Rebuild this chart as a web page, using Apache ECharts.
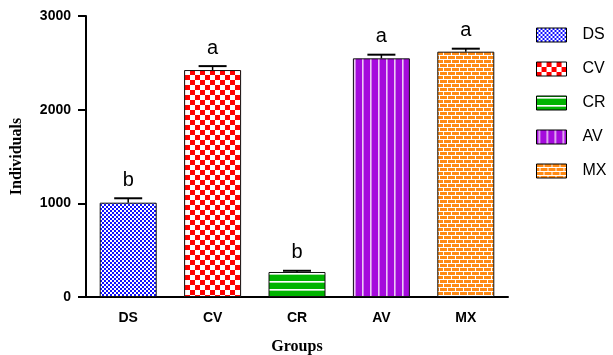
<!DOCTYPE html>
<html>
<head>
<meta charset="utf-8">
<script src="https://cdn.jsdelivr.net/npm/echarts@6/dist/echarts.min.js"></script>
<style>
  html, body { margin: 0; padding: 0; background: #fff; }
  #chart { width: 613px; height: 355px; }
</style>
</head>
<body>
<div id="chart"></div>
<script>
const categories = ["DS", "CV", "CR", "AV", "MX"];
const means = [1007, 2423, 267, 2548, 2619];
const errors = [47, 42, 13, 39, 32];
const letters = ["b", "a", "b", "a", "a"];
const yTicks = [0, 1000, 2000, 3000];

// small canvas tiles used as bar fills
function tile(w, h, bg, draw) {
  const c = document.createElement("canvas");
  c.width = w;
  c.height = h;
  const ctx = c.getContext("2d");
  ctx.fillStyle = bg;
  ctx.fillRect(0, 0, w, h);
  draw(ctx);
  return c;
}

const patterns = [
  // DS: fine blue checker
  tile(4, 4, "#ffffff", (ctx) => {
    ctx.fillStyle = "#1010ff";
    ctx.fillRect(0, 0, 2, 2);
    ctx.fillRect(2, 2, 2, 2);
  }),
  // CV: red checker
  tile(10, 10, "#ffffff", (ctx) => {
    ctx.fillStyle = "#ff0000";
    ctx.fillRect(0, 0, 5, 5);
    ctx.fillRect(5, 5, 5, 5);
  }),
  // CR: green with white horizontal lines
  tile(1, 8, "#00b400", (ctx) => {
    ctx.fillStyle = "#ffffff";
    ctx.fillRect(0, 1, 1, 1);
    ctx.fillStyle = "#a8e0a8";
    ctx.fillRect(0, 2, 1, 1);
  }),
  // AV: purple with light vertical lines
  tile(8, 1, "#a50bdc", (ctx) => {
    ctx.fillStyle = "#ecc8f4";
    ctx.fillRect(2, 0, 1, 1);
    ctx.fillStyle = "#cf80ea";
    ctx.fillRect(3, 0, 1, 1);
  }),
  // MX: orange bricks
  tile(16, 8, "#ff8a14", (ctx) => {
    ctx.fillStyle = "#ffffff";
    ctx.fillRect(0, 3, 16, 1);
    ctx.fillRect(0, 7, 16, 1);
    ctx.fillRect(7, 0, 1, 3);
    ctx.fillRect(15, 0, 1, 3);
    ctx.fillRect(3, 4, 1, 3);
    ctx.fillRect(11, 4, 1, 3);
  }),
];

const barSeries = categories.map((name, i) => ({
  name: name,
  type: "bar",
  stack: "groups",
  barWidth: 57,
  data: means.map((v, j) => (j === i ? v : "-")),
  itemStyle: {
    color: { image: patterns[i], repeat: "repeat" },
    borderColor: "#111",
    borderWidth: 1,
  },
  emphasis: { disabled: true },
}));

const errorSeries = {
  type: "custom",
  z: 5,
  data: means.map((m, i) => [i, m, errors[i]]),
  encode: { x: 0, y: 1 },
  renderItem: (params, api) => {
    const base = api.coord([api.value(0), api.value(1)]);
    const top = api.coord([api.value(0), api.value(1) + api.value(2)]);
    const hw = 14;
    return {
      type: "group",
      children: [
        {
          type: "line",
          shape: { x1: base[0], y1: base[1], x2: top[0], y2: top[1] },
          style: { stroke: "#000", lineWidth: 1.5 },
        },
        {
          type: "line",
          shape: { x1: top[0] - hw, y1: top[1], x2: top[0] + hw, y2: top[1] },
          style: { stroke: "#000", lineWidth: 2 },
        },
        {
          type: "text",
          style: {
            text: letters[params.dataIndex],
            x: top[0],
            y: top[1] - 8,
            align: "center",
            verticalAlign: "bottom",
            font: '20px "Liberation Sans", Arial, sans-serif',
            fill: "#000",
          },
        },
      ],
    };
  },
};

const chart = echarts.init(document.getElementById("chart"));
chart.setOption({
  animation: false,
  backgroundColor: "#fff",
  grid: { left: 86, right: 105, top: 16, bottom: 58, outerBoundsMode: "none" },
  legend: {
    data: categories,
    orient: "vertical",
    left: 531,
    top: 22,
    itemWidth: 30,
    itemHeight: 14,
    itemGap: 18,
    icon: "rect",
    itemStyle: { borderColor: "#000", borderWidth: 1 },
    textStyle: {
      fontFamily: "Liberation Sans",
      fontSize: 16,
      color: "#000",
      padding: [0, 0, 0, 11],
    },
    selectedMode: false,
  },
  xAxis: {
    type: "category",
    data: categories,
    name: "Groups",
    nameLocation: "middle",
    nameGap: 42,
    nameTextStyle: {
      fontFamily: "Liberation Serif",
      fontWeight: "bold",
      fontSize: 16,
      color: "#000",
    },
    axisLine: { lineStyle: { color: "#000", width: 2 } },
    axisTick: { alignWithLabel: true, length: 8, lineStyle: { width: 2 } },
    axisLabel: {
      fontFamily: "Liberation Sans",
      fontWeight: "bold",
      fontSize: 14,
      color: "#000",
      margin: 14,
    },
  },
  yAxis: {
    type: "value",
    min: yTicks[0],
    max: yTicks[yTicks.length - 1],
    interval: 1000,
    name: "Individuals",
    nameLocation: "middle",
    nameGap: 61,
    nameTextStyle: {
      fontFamily: "Liberation Serif",
      fontWeight: "bold",
      fontSize: 16,
      color: "#000",
    },
    axisLine: { show: true, lineStyle: { color: "#000", width: 2 } },
    axisTick: { show: true, length: 8, lineStyle: { width: 2 } },
    splitLine: { show: false },
    axisLabel: {
      fontFamily: "Liberation Sans",
      fontWeight: "bold",
      fontSize: 14,
      color: "#000",
      margin: 15,
      formatter: (v) => String(v),
    },
  },
  series: [...barSeries, errorSeries],
});
</script>
</body>
</html>
